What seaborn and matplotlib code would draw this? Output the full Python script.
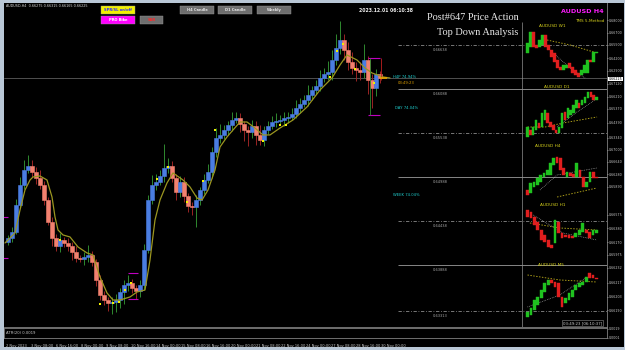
import numpy as np
import pandas as pd
import matplotlib
matplotlib.use("Agg")
import matplotlib.pyplot as plt
from matplotlib.patches import Rectangle
import seaborn as sns

sns.set_style("dark")
plt.rcParams['font.family'] = ['DejaVu Sans']

# ---------------- main AUDUSD H4 data ----------------
h4_first_open = 0.64175
h4_close = [0.64225, 0.64300, 0.64638, 0.64888, 0.65075, 0.65125, 0.65050, 0.64975, 0.64888, 0.64700,
            0.64425, 0.64225, 0.64125, 0.64200, 0.64163, 0.64125, 0.64050, 0.63975, 0.63963, 0.63988,
            0.64013, 0.63925, 0.63700, 0.63513, 0.63450, 0.63413, 0.63425, 0.63450, 0.63550, 0.63638,
            0.63663, 0.63600, 0.63563, 0.63638, 0.64075, 0.64700, 0.64888, 0.64925, 0.65000, 0.65100,
            0.65125, 0.64975, 0.64800, 0.64925, 0.64750, 0.64625, 0.64613, 0.64700, 0.64825, 0.64950,
            0.65050, 0.65300, 0.65475, 0.65513, 0.65575, 0.65638, 0.65700, 0.65725, 0.65650, 0.65575,
            0.65550, 0.65625, 0.65513, 0.65450, 0.65575, 0.65625, 0.65675, 0.65688, 0.65700, 0.65725,
            0.65738, 0.65775, 0.65850, 0.65900, 0.65950, 0.66013, 0.66075, 0.66125, 0.66225, 0.66275,
            0.66300, 0.66450, 0.66600, 0.66700, 0.66575, 0.66425, 0.66350, 0.66325, 0.66300, 0.66450,
            0.66200, 0.66100, 0.66275, 0.66225]
h4_up_wick_pips = [4, 6, 8, 10, 12, 14, 8, 6, 10, 5, 4, 6, 5, 9, 4, 6, 5, 8, 4, 6, 12, 5, 4, 6,
                   5, 4, 6, 8, 5, 6, 10, 5, 4, 6, 8, 6, 12, 10, 8, 30, 10, 6, 5, 8, 6, 4, 5, 6,
                   4, 8, 10, 6, 12, 14, 6, 5, 10, 8, 6, 4, 5, 8, 6, 12, 5, 6, 8, 10, 6, 7, 6, 8,
                   10, 8, 6, 12, 5, 8, 10, 8, 14, 12, 18, 24, 8, 10, 12, 8, 10, 20, 5, 8, 6, 4]
h4_dn_wick_pips = [4, 5, 3, 4, 5, 4, 6, 8, 5, 6, 4, 10, 6, 8, 5, 6, 10, 5, 4, 8, 6, 5, 8, 6,
                   6, 10, 14, 12, 10, 15, 8, 6, 10, 8, 6, 4, 5, 6, 4, 8, 6, 5, 10, 6, 8, 8, 10, 25,
                   6, 5, 4, 8, 6, 6, 5, 6, 8, 4, 10, 14, 18, 8, 12, 6, 8, 5, 4, 6, 5, 8, 6, 4,
                   5, 6, 4, 8, 6, 5, 6, 5, 8, 10, 6, 8, 12, 10, 8, 14, 10, 8, 18, 25, 10, 6]

ma_idx = [-0.75, 1.75, 3, 4.25, 5.5, 6.25, 8, 9.75, 11, 11.75, 12.5, 13.75, 15.5, 17.5, 19.75, 21.25,
          23, 24.75, 26.25, 28, 30.5, 32.25, 34.25, 35.5, 36.75, 38, 39.75, 41.25, 43.75, 45.5, 47.25,
          48.5, 50, 51.75, 53, 54.75, 56.25, 58, 59.75, 61.75, 63.75, 65.5, 68, 71.25, 74.75, 78, 81,
          83, 84.75, 87.25, 89.25, 91, 93.75, 95.5]
ma_val = [0.64163, 0.64288, 0.64575, 0.64825, 0.64950, 0.64988, 0.65000, 0.64950, 0.64738, 0.64488,
          0.64325, 0.64263, 0.64238, 0.64113, 0.64038, 0.64013, 0.63738, 0.63538, 0.63450, 0.63450,
          0.63488, 0.63550, 0.63575, 0.63950, 0.64450, 0.64700, 0.64913, 0.65038, 0.64950, 0.64863,
          0.64725, 0.64700, 0.64825, 0.65075, 0.65363, 0.65488, 0.65575, 0.65675, 0.65675, 0.65600,
          0.65513, 0.65513, 0.65600, 0.65700, 0.65863, 0.66075, 0.66225, 0.66388, 0.66513, 0.66450,
          0.66350, 0.66288, 0.66238, 0.66225]

dot_idx = [13, 23, 26.25, 27.75, 29.25, 30.75, 37.25, 40, 44.75, 48.75, 51.75, 63.75, 68, 69.5,
           80.5, 82.25, 83.75, 86.75, 91.5]
dot_val = [0.64200, 0.63400, 0.63413, 0.63425, 0.63575, 0.63663, 0.64963, 0.65113, 0.64675, 0.64938,
           0.65575, 0.65438, 0.65638, 0.65638, 0.66238, 0.66563, 0.66650, 0.66338, 0.66163]

range_left = [-1.5, 30, 90]
range_right = [0, 32.5, 93]
range_hi = [0.64488, 0.63788, 0.66475]
range_lo = [0.63975, 0.63463, 0.65763]

level_vals = [0.66638, 0.66088, 0.65538, 0.64988, 0.64438, 0.63888, 0.63313]
level_solid = [False, True, False, True, False, True, False]

date_pos = [-0.5, 5.75, 12.0, 18.25, 24.5, 30.75, 37.0, 43.25, 49.5, 55.75, 62.0, 68.25, 74.5,
            80.75, 87.0, 93.25]
date_labels = ["2 Nov 2023", "3 Nov 08:00", "6 Nov 16:00", "8 Nov 00:00", "9 Nov 08:00",
               "10 Nov 16:00", "14 Nov 00:00", "15 Nov 08:00", "16 Nov 16:00", "20 Nov 00:00",
               "21 Nov 08:00", "22 Nov 16:00", "24 Nov 00:00", "27 Nov 08:00", "28 Nov 16:00",
               "30 Nov 00:00"]

# ---------------- mini charts ----------------
w1_open = [0.647, 0.653, 0.668, 0.655, 0.653, 0.655, 0.665, 0.655, 0.650, 0.647, 0.640, 0.633,
           0.630, 0.632, 0.637, 0.633, 0.630, 0.627, 0.625, 0.627, 0.627, 0.640, 0.638, 0.647]
w1_close = [0.657, 0.668, 0.653, 0.652, 0.660, 0.665, 0.653, 0.650, 0.643, 0.638, 0.632, 0.630,
            0.635, 0.635, 0.632, 0.627, 0.625, 0.623, 0.630, 0.635, 0.640, 0.638, 0.648, 0.648]
w1_ticks = [0.680, 0.667, 0.655, 0.642, 0.629]
w1_ma_a_x = [6.5, 14.2, 23.2]; w1_ma_a_y = [0.660, 0.655, 0.647]
w1_ma_b_x = [8.2, 14.2, 19.2]; w1_ma_b_y = [0.648, 0.632, 0.622]

d1_open = [0.6341, 0.6390, 0.6355, 0.6390, 0.6439, 0.6411, 0.6460, 0.6509, 0.6446, 0.6425, 0.6390,
           0.6369, 0.6404, 0.6516, 0.6474, 0.6495, 0.6509, 0.6544, 0.6579, 0.6565, 0.6579, 0.6614,
           0.6656, 0.6635, 0.6600]
d1_close = [0.6411, 0.6355, 0.6411, 0.6460, 0.6404, 0.6509, 0.6530, 0.6439, 0.6411, 0.6390, 0.6369,
            0.6411, 0.6509, 0.6460, 0.6544, 0.6530, 0.6565, 0.6600, 0.6544, 0.6600, 0.6621, 0.6656,
            0.6621, 0.6600, 0.6621]
d1_ticks = [0.6712, 0.6621, 0.6537, 0.6439, 0.6334]
d1_ma_a_x = [0, 6.1, 12.3, 24.2]; d1_ma_a_y = [0.6411, 0.6411, 0.6439, 0.6481]
d1_ma_b_x = [10.3, 17.2, 23.5]; d1_ma_b_y = [0.6411, 0.6516, 0.6600]

h4m_open = [0.6580, 0.6571, 0.6589, 0.6595, 0.6604, 0.6619, 0.6625, 0.6625, 0.6655, 0.6679, 0.6676,
            0.6646, 0.6619, 0.6631, 0.6628, 0.6619, 0.6640, 0.6619, 0.6589, 0.6604, 0.6634, 0.6619]
h4m_close = [0.6565, 0.6601, 0.6604, 0.6616, 0.6625, 0.6631, 0.6640, 0.6661, 0.6676, 0.6661, 0.6640,
             0.6625, 0.6634, 0.6622, 0.6619, 0.6661, 0.6619, 0.6589, 0.6604, 0.6634, 0.6616, 0.6616]
h4m_ticks = [0.6700, 0.6664, 0.6628, 0.6589]
h4m_ma_a_x = [9.0, 21.1]; h4m_ma_a_y = [0.6559, 0.6586]
h4m_ma_b_x = [3.8, 9.0, 21.1]; h4m_ma_b_y = [0.6580, 0.6625, 0.6646]

h1_open = [0.66650, 0.66620, 0.66545, 0.66470, 0.66350, 0.66275, 0.66200, 0.66125, 0.66155, 0.66470,
           0.66305, 0.66275, 0.66275, 0.66260, 0.66245, 0.66275, 0.66320, 0.66350, 0.66320, 0.66275,
           0.66305]
h1_close = [0.66545, 0.66530, 0.66425, 0.66350, 0.66200, 0.66170, 0.66095, 0.66080, 0.66500, 0.66305,
            0.66230, 0.66245, 0.66230, 0.66230, 0.66305, 0.66350, 0.66455, 0.66305, 0.66230, 0.66350,
            0.66350]
h1_ticks = [0.66575, 0.66380, 0.66170, 0.65975]
h1_ma_a_x = [0.7, 9.4, 20.1]; h1_ma_a_y = [0.66455, 0.66380, 0.66350]
h1_ma_b_x = [1.6, 10.3, 20.1]; h1_ma_b_y = [0.66575, 0.66305, 0.66200]

m5_open = [0.66183, 0.66185, 0.66190, 0.66195, 0.66202, 0.66208, 0.66215, 0.66220, 0.66218, 0.66217,
           0.66203, 0.66197, 0.66200, 0.66203, 0.66210, 0.66213, 0.66215, 0.66218, 0.66227, 0.66225,
           0.66222]
m5_close = [0.66188, 0.66192, 0.66200, 0.66203, 0.66210, 0.66217, 0.66220, 0.66217, 0.66213, 0.66203,
            0.66193, 0.66202, 0.66207, 0.66210, 0.66215, 0.66217, 0.66218, 0.66223, 0.66222, 0.66222,
            0.66221]
m5_ticks = [0.66232, 0.66217, 0.66203, 0.66190]
m5_ma_a_x = [0, 9.4, 20.1]; m5_ma_a_y = [0.66225, 0.66220, 0.66218]
m5_ma_b_x = [0, 9.4, 17.2]; m5_ma_b_y = [0.66193, 0.66205, 0.66223]

# ---------------- figure ----------------
W, H = 625, 350
fig = plt.figure(figsize=(W / 100, H / 100), dpi=100, facecolor='#b9c7d6')


def add_px(x0, y0, x1, y1):
    a = fig.add_axes([x0 / W, 1 - y1 / H, (x1 - x0) / W, (y1 - y0) / H])
    a.grid(False)
    return a


def fx(x):
    return x / W


def fy(y):
    return 1 - y / H


bg = add_px(4, 3, 624, 347)
bg.set_facecolor('black')
bg.set_xticks([]); bg.set_yticks([])
for s in bg.spines.values():
    s.set_visible(False)

ax = add_px(4, 3, 607, 327)
ax.set_facecolor('none')
ax.set_xlim(-1, 149.75)
ax.set_ylim(0.631125, 0.671625)
ax.set_xticks([]); ax.set_yticks([])
for k, s in ax.spines.items():
    if k in ('bottom', 'right'):
        s.set_color('#808080'); s.set_linewidth(0.6)
    else:
        s.set_visible(False)

n = len(h4_close)
df = pd.DataFrame({'idx': np.arange(n), 'close': h4_close})
df['open'] = [h4_first_open] + h4_close[:-1]
df['high'] = np.maximum(df.open, df.close) + np.array(h4_up_wick_pips) * 1e-4
df['low'] = np.minimum(df.open, df.close) - np.array(h4_dn_wick_pips) * 1e-4
bull = (df.close >= df.open).values

# reference levels on the right part
for v, solid in zip(level_vals, level_solid):
    ax.hlines(v, 97.5, 149.75, colors='#9c9c9c' if solid else '#8a8a8a',
              linestyles='-' if solid else (0, (4, 2, 1, 2)), linewidth=0.6, zorder=1)
    ax.text(108, v - 0.00035, f"{v:.5f}", color='#a8a8a8', fontsize=2.6, ha='center', va='top')

ax.axhline(h4_close[-1], color='#707070', lw=0.5, zorder=1)
ax.vlines(128.5, 0.631125, 0.66925, colors='#909090', lw=0.5, zorder=1)

ax.vlines(df.idx, df.low, df.high, colors=np.where(bull, '#2f8a2f', '#9a2424'), lw=0.7, zorder=2)
ax.bar(df.idx, df.close - df.open, bottom=df.open, width=0.88,
       color=np.where(bull, '#4a7de2', '#f2816f'), edgecolor=np.where(bull, '#4a7de2', '#f2816f'),
       linewidth=0.4, zorder=3)

sns.lineplot(x=ma_idx, y=ma_val, ax=ax, color='#9b9620', lw=0.9, sort=False, estimator=None, zorder=4)
sns.scatterplot(x=dot_idx, y=dot_val, ax=ax, marker='s', s=2.5, color='#f4f000', linewidth=0, zorder=5)

for l, r, hi, lo in zip(range_left, range_right, range_hi, range_lo):
    ax.hlines([hi, lo], l, r, colors='#c000c0', lw=0.8, zorder=5)
ax.vlines(range_left[-1] + 0.5, range_lo[-1], range_hi[-1], colors='#2f8a2f', lw=0.6, zorder=5)
ax.vlines(range_right[-1] + 0.2, h4_close[-4], range_hi[-1], colors='#c02020', lw=0.6, zorder=5)
ax.hlines(h4_close[-1], n - 1, n + 0.8, colors='#e0a000', lw=1.3, zorder=6)

# ---------------- mini panels ----------------
def mini(y0, y1, opens, closes, ylim, ticks, maa, mab, title, tx, ty):
    m = add_px(524, y0, 607, y1)
    m.set_facecolor('none')
    k = len(opens)
    s = 69.0 / (k - 1)
    m.set_xlim((524 - 527.5) / s, (607 - 527.5) / s)
    m.set_ylim(*ylim)
    o = np.array(opens); c = np.array(closes)
    up = c >= o
    m.bar(np.arange(k), c - o, bottom=o, width=0.8,
          color=np.where(up, '#1fc21f', '#e01e1e'), edgecolor=np.where(up, '#1fc21f', '#e01e1e'),
          linewidth=0.3, zorder=3)
    sns.lineplot(x=maa[0], y=maa[1], ax=m, color='#a89a18', lw=0.7, linestyle=(0, (1.5, 1.5)),
                 sort=False, estimator=None)
    sns.lineplot(x=mab[0], y=mab[1], ax=m, color='#bdbdbd', lw=0.5, linestyle=(0, (1, 1.5)),
                 sort=False, estimator=None)
    m.set_xticks([])
    m.yaxis.tick_right()
    m.set_yticks(ticks)
    m.set_yticklabels([f"{t:.5f}" for t in ticks])
    m.tick_params(axis='y', colors='#c8c8c8', labelsize=2.3, length=1.0, width=0.4, pad=0.6,
                  direction='out', right=True, left=False)
    m.set_ylabel(''); m.set_xlabel('')
    for sp in m.spines.values():
        sp.set_visible(False)
    fig.text(fx(tx), fy(ty), title, color='#d4cf1c', fontsize=3.1, ha='center', va='center')


mini(16, 82, w1_open, w1_close, (0.618, 0.684), w1_ticks, (w1_ma_a_x, w1_ma_a_y),
     (w1_ma_b_x, w1_ma_b_y), 'AUDUSD W1', 552, 26)
mini(82, 141, d1_open, d1_close, (0.6313, 0.6726), d1_ticks, (d1_ma_a_x, d1_ma_a_y),
     (d1_ma_b_x, d1_ma_b_y), 'AUDUSD D1', 557, 87)
mini(141, 202, h4m_open, h4m_close, (0.6544, 0.6727), h4m_ticks, (h4m_ma_a_x, h4m_ma_a_y),
     (h4m_ma_b_x, h4m_ma_b_y), 'AUDUSD H4', 548, 146)
mini(202, 262, h1_open, h1_close, (0.6587, 0.6677), h1_ticks, (h1_ma_a_x, h1_ma_a_y),
     (h1_ma_b_x, h1_ma_b_y), 'AUDUSD H1', 553, 205)
mini(262, 327, m5_open, m5_close, (0.66173, 0.66238), m5_ticks, (m5_ma_a_x, m5_ma_a_y),
     (m5_ma_b_x, m5_ma_b_y), 'AUDUSD M5', 551, 265)

# ---------------- indicator + date axis ----------------
ind = add_px(4, 328, 607, 338)
ind.set_facecolor('black')
ind.set_xlim(-1, 149.75)
ind.set_ylim(0, 0.002)
for sp in ind.spines.values():
    sp.set_color('#808080'); sp.set_linewidth(0.6)
ind.set_xticks(date_pos)
ind.set_xticklabels(date_labels)
for lb in ind.get_xticklabels():
    lb.set_ha('left')
ind.tick_params(axis='x', colors='#909090', labelcolor='#c8c8c8', labelsize=2.6, length=3,
                width=0.4, pad=1.2, direction='out')
ind.yaxis.tick_right()
ind.set_yticks([0.0019, 0.0001])
ind.set_yticklabels(['0.0019', '0.0001'])
ind.tick_params(axis='y', colors='#c8c8c8', labelsize=2.3, length=1.0, width=0.4, pad=0.6)
ind.text(0.004, 0.5, 'ATR(20) 0.0019', transform=ind.transAxes, fontsize=2.7, color='#c8c8c8',
         va='center', ha='left')

# ---------------- texts & buttons ----------------
last = df.iloc[-1]
fig.text(fx(6), fy(6), f"AUDUSD,H4  {last.open:.5f} {last.high:.5f} {last.low:.5f} {last.close:.5f}",
         color='#d8d8d8', fontsize=2.4, ha='left', va='center')

buttons = [(101, 6, 135, 14, '#f2f000', 'SPR/SL on/off', '#2a2aff'),
           (101, 16, 135, 24, '#ff00ff', 'PRO Bike', '#ffffff'),
           (140, 16, 163, 24, '#6e6e6e', 'SAR', '#ff2a2a'),
           (180, 6, 214, 14, '#6e6e6e', 'H4 Candle', '#e6e6e6'),
           (218, 6, 252, 14, '#6e6e6e', 'D1 Candle', '#e6e6e6'),
           (257, 6, 291, 14, '#6e6e6e', 'Weekly', '#e6e6e6')]
for x0, y0, x1, y1, fc, t, tc in buttons:
    fig.patches.append(Rectangle((fx(x0), fy(y1)), (x1 - x0) / W, (y1 - y0) / H,
                                 transform=fig.transFigure, facecolor=fc, edgecolor='#9a9a9a',
                                 linewidth=0.3))
    fig.text(fx((x0 + x1) / 2), fy((y0 + y1) / 2), t, color=tc, fontsize=2.6, fontweight='bold',
             ha='center', va='center')

fig.text(fx(386), fy(10), '2023.12.01 06:10:38', color='#f0f0f0', fontsize=3.3, fontweight='bold',
         ha='center', va='center')
fig.text(fx(519), fy(17), 'Post#647 Price Action', color='#e8e8e8', fontsize=7.4,
         family='Liberation Serif', ha='right', va='center')
fig.text(fx(518), fy(32.5), 'Top Down Analysis', color='#e8e8e8', fontsize=7.4,
         family='Liberation Serif', ha='right', va='center')
fig.text(fx(604), fy(11.5), 'AUDUSD H4', color='#ff1cff', fontsize=4.6, fontweight='bold',
         ha='right', va='center')
fig.text(fx(604), fy(20.5), 'TMS 5-Method', color='#d4cf1c', fontsize=3.0, ha='right', va='center')

fig.text(fx(393), fy(77), 'H4P 74.94%', color='#1fd0d0', fontsize=2.7, ha='left', va='center')
fig.text(fx(398), fy(82.5), '03:49:23', color='#e0a000', fontsize=2.7, ha='left', va='center')
fig.text(fx(395), fy(108), 'DAY 74.04%', color='#1fd0d0', fontsize=2.7, ha='left', va='center')
fig.text(fx(393), fy(195), 'WEEK 74.04%', color='#1fd0d0', fontsize=2.7, ha='left', va='center')

fig.text(fx(608.5), fy(79), f"{h4_close[-1]:.5f}", color='black', fontsize=2.3, ha='left', va='center',
         bbox=dict(boxstyle='square,pad=0.15', fc='white', ec='none'))
fig.text(fx(602), fy(323), '03:49:23 [06:10:37]', color='#c8c8c8', fontsize=2.8, ha='right', va='center',
         bbox=dict(boxstyle='square,pad=0.25', fc='black', ec='#8a8a8a', lw=0.4))

fig.savefig('out.png', dpi=100, facecolor=fig.get_facecolor())
